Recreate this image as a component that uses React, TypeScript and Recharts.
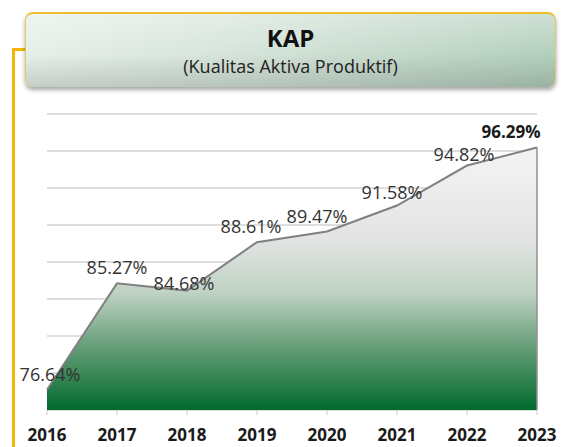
import React from "react";
import {
  AreaChart,
  Area,
  XAxis,
  YAxis,
  CartesianGrid,
  LabelList,
  ReferenceLine,
} from "recharts";

// Chart data
const years = ["2016", "2017", "2018", "2019", "2020", "2021", "2022", "2023"];
const kapValues = [76.64, 85.27, 84.68, 88.61, 89.47, 91.58, 94.82, 96.29];
const yTicks = [75, 78, 81, 84, 87, 90, 93, 96, 99];

const data = years.map((year, i) => ({ year, kap: kapValues[i] }));

// Label nudges so the texts sit like the original slide
const labelShift = [
  { dx: 3, dy: 0 },
  { dx: 0, dy: 0 },
  { dx: -3, dy: 8 },
  { dx: -6, dy: 0 },
  { dx: -10, dy: 0 },
  { dx: -5, dy: 2 },
  { dx: -3, dy: 4 },
  { dx: -26, dy: 0 },
];

const FONT = "'Open Sans', 'Noto Sans', sans-serif";

const renderLabel = (props: any) => {
  const { x, y, value, index } = props;
  const shift = labelShift[index] || { dx: 0, dy: 0 };
  const last = index === kapValues.length - 1;
  return (
    <text
      x={x + shift.dx}
      y={y - 9 + shift.dy}
      textAnchor="middle"
      fontFamily={FONT}
      fontSize={last ? 17 : 18}
      fontWeight={last ? 700 : 400}
      fill={last ? "#1a1a1a" : "#333333"}
    >
      {value.toFixed(2) + "%"}
    </text>
  );
};

export default function App() {
  return (
    <div
      style={{
        position: "absolute",
        left: 0,
        top: 0,
        width: 561,
        height: 447,
        background: "#ffffff",
        overflow: "hidden",
        fontFamily: FONT,
      }}
    >
      {/* gold bracket on the left */}
      <div
        style={{
          position: "absolute",
          left: 12,
          top: 48,
          width: 3,
          height: 400,
          background: "#f2b705",
        }}
      />
      <div
        style={{
          position: "absolute",
          left: 12,
          top: 48,
          width: 14,
          height: 3,
          background: "#f2b705",
        }}
      />

      {/* title box */}
      <div
        style={{
          position: "absolute",
          left: 25,
          top: 12,
          width: 531,
          height: 75,
          borderRadius: 8,
          borderTop: "2px solid #eebf2a",
          borderLeft: "1px solid #e8c860",
          borderRight: "1px solid #e0c870",
          background:
            "linear-gradient(180deg, rgba(255,255,255,0.35) 0%, rgba(255,255,255,0) 55%, rgba(0,0,0,0.14) 100%), linear-gradient(90deg, #e6efe8 0%, #d0e1d5 50%, #b3cfbd 100%)",
          boxShadow: "0 3px 4px rgba(0,0,0,0.35)",
          textAlign: "center",
          boxSizing: "border-box",
        }}
      >
        <div
          style={{
            fontSize: 24,
            fontWeight: 700,
            color: "#111",
            marginTop: 8,
            lineHeight: "32px",
          }}
        >
          KAP
        </div>
        <div style={{ fontSize: 18, color: "#222", lineHeight: "25px" }}>
          (Kualitas Aktiva Produktif)
        </div>
      </div>

      <div style={{ position: "absolute", left: 0, top: 0 }}>
        <AreaChart
          width={561}
          height={447}
          data={data}
          margin={{ top: 114, right: 24, bottom: 7, left: 47 }}
        >
          <defs>
            <linearGradient id="kapFill" x1="0" y1="0" x2="0" y2="1">
              <stop offset="0%" stopColor="#f4f4f4" />
              <stop offset="35%" stopColor="#e2e4e2" />
              <stop offset="55%" stopColor="#c0d3c5" />
              <stop offset="75%" stopColor="#6aa07b" />
              <stop offset="100%" stopColor="#006a2c" />
            </linearGradient>
          </defs>
          <CartesianGrid
            horizontal
            vertical={false}
            stroke="#dedede"
            strokeWidth={2}
          />
          <XAxis
            dataKey="year"
            axisLine={false}
            tickLine={{ stroke: "#cccccc" }}
            tickSize={5}
            tickMargin={14}
            height={30}
            interval={0}
            tick={{
              fontFamily: FONT,
              fontSize: 17,
              fontWeight: 700,
              fill: "#1a1a1a",
            }}
          />
          <YAxis hide domain={[75, 99]} ticks={yTicks} />
          <Area
            type="linear"
            dataKey="kap"
            stroke="#808080"
            strokeWidth={2}
            fill="url(#kapFill)"
            fillOpacity={1}
            isAnimationActive={false}
            dot={false}
            activeDot={false}
          >
            <LabelList dataKey="kap" content={renderLabel} />
          </Area>
          <ReferenceLine
            segment={[
              { x: "2023", y: 75 },
              { x: "2023", y: kapValues[kapValues.length - 1] },
            ]}
            stroke="#909090"
            strokeWidth={1.5}
          />
        </AreaChart>
      </div>
    </div>
  );
}
